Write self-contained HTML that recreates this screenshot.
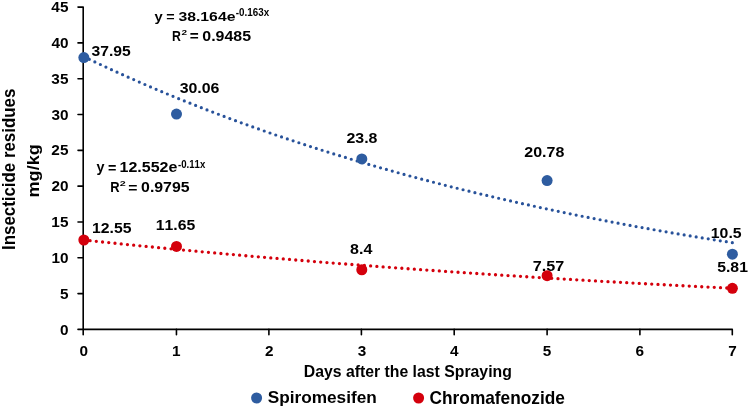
<!DOCTYPE html>
<html><head><meta charset="utf-8"><style>
html,body{margin:0;padding:0;background:#fff;}
svg{display:block;will-change:transform}
</style></head><body>
<svg width="749" height="409" viewBox="0 0 749 409">
<path d="M78 7.10 H83.2 V329.4 H732.3 V334.7" fill="none" stroke="#000" stroke-width="1.6" stroke-linejoin="round" stroke-linecap="round"/>
<path d="M78 329.40 H83.2 M78 293.59 H83.2 M78 257.78 H83.2 M78 221.97 H83.2 M78 186.16 H83.2 M78 150.34 H83.2 M78 114.53 H83.2 M78 78.72 H83.2 M78 42.91 H83.2 M83.20 329.4 V334.7 M176.45 329.4 V334.7 M268.90 329.4 V334.7 M361.40 329.4 V334.7 M454.20 329.4 V334.7 M547.10 329.4 V334.7 M639.90 329.4 V334.7" fill="none" stroke="#000" stroke-width="1.6" stroke-linecap="round"/>
<path d="M83.85,56.66 L93.11,61.08 L102.38,65.43 L111.64,69.71 L120.91,73.91 L130.18,78.05 L139.44,82.13 L148.70,86.14 L157.97,90.08 L167.24,93.96 L176.50,97.77 L185.77,101.53 L195.03,105.22 L204.30,108.86 L213.56,112.43 L222.83,115.95 L232.09,119.41 L241.35,122.81 L250.62,126.16 L259.88,129.46 L269.15,132.70 L278.42,135.89 L287.68,139.03 L296.94,142.12 L306.21,145.16 L315.48,148.14 L324.74,151.08 L334.00,153.98 L343.27,156.82 L352.53,159.62 L361.80,162.38 L371.07,165.09 L380.33,167.75 L389.60,170.38 L398.86,172.96 L408.12,175.50 L417.39,178.00 L426.66,180.45 L435.92,182.87 L445.19,185.25 L454.45,187.59 L463.72,189.89 L472.98,192.16 L482.25,194.39 L491.51,196.58 L500.77,198.74 L510.04,200.86 L519.31,202.95 L528.57,205.00 L537.84,207.02 L547.10,209.01 L556.37,210.97 L565.63,212.89 L574.89,214.78 L584.16,216.65 L593.43,218.48 L602.69,220.28 L611.96,222.06 L621.22,223.80 L630.49,225.52 L639.75,227.21 L649.01,228.87 L658.28,230.50 L667.55,232.11 L676.81,233.70 L686.08,235.25 L695.34,236.78 L704.61,238.29 L713.87,239.77 L723.14,241.23 L732.40,242.67" fill="none" stroke="#28529A" stroke-width="3.2" stroke-linecap="round" stroke-dasharray="0 6.1"/>
<path d="M83.85,240.00 L93.11,240.98 L102.38,241.96 L111.64,242.92 L120.91,243.87 L130.18,244.81 L139.44,245.74 L148.70,246.66 L157.97,247.57 L167.24,248.47 L176.50,249.36 L185.77,250.25 L195.03,251.12 L204.30,251.98 L213.56,252.83 L222.83,253.67 L232.09,254.51 L241.35,255.33 L250.62,256.15 L259.88,256.96 L269.15,257.75 L278.42,258.54 L287.68,259.32 L296.94,260.10 L306.21,260.86 L315.48,261.61 L324.74,262.36 L334.00,263.10 L343.27,263.83 L352.53,264.55 L361.80,265.27 L371.07,265.98 L380.33,266.67 L389.60,267.37 L398.86,268.05 L408.12,268.73 L417.39,269.40 L426.66,270.06 L435.92,270.71 L445.19,271.36 L454.45,272.00 L463.72,272.63 L472.98,273.26 L482.25,273.88 L491.51,274.49 L500.77,275.10 L510.04,275.70 L519.31,276.29 L528.57,276.88 L537.84,277.46 L547.10,278.03 L556.37,278.60 L565.63,279.16 L574.89,279.72 L584.16,280.26 L593.43,280.81 L602.69,281.34 L611.96,281.88 L621.22,282.40 L630.49,282.92 L639.75,283.43 L649.01,283.94 L658.28,284.45 L667.55,284.94 L676.81,285.44 L686.08,285.92 L695.34,286.40 L704.61,286.88 L713.87,287.35 L723.14,287.81 L732.40,288.28" fill="none" stroke="#D4000C" stroke-width="3.3" stroke-linecap="round" stroke-dasharray="0 6.26"/>
<g font-family="Liberation Sans, sans-serif" font-weight="bold" fill="#000" style="font-kerning:none"><text font-size="14.971" transform="translate(60.10,334.55) scale(1.0244,1)">0</text><text font-size="14.971" transform="translate(59.90,298.74) scale(1.0244,1)">5</text><text font-size="14.971" transform="translate(51.57,262.93) scale(1.0244,1)">10</text><text font-size="14.971" transform="translate(51.37,227.12) scale(1.0244,1)">15</text><text font-size="14.971" transform="translate(51.57,191.31) scale(1.0244,1)">20</text><text font-size="14.971" transform="translate(51.37,155.49) scale(1.0244,1)">25</text><text font-size="14.971" transform="translate(51.57,119.68) scale(1.0244,1)">30</text><text font-size="14.971" transform="translate(51.37,83.87) scale(1.0244,1)">35</text><text font-size="14.971" transform="translate(51.57,48.06) scale(1.0244,1)">40</text><text font-size="14.971" transform="translate(51.37,12.25) scale(1.0244,1)">45</text><text font-size="14.971" transform="translate(79.60,356.2) scale(1.0244,1)">0</text><text font-size="14.971" transform="translate(171.97,356.2) scale(1.0244,1)">1</text><text font-size="14.971" transform="translate(264.93,356.2) scale(1.0244,1)">2</text><text font-size="14.971" transform="translate(357.64,356.2) scale(1.0244,1)">3</text><text font-size="14.971" transform="translate(450.11,356.2) scale(1.0244,1)">4</text><text font-size="14.971" transform="translate(542.81,356.2) scale(1.0244,1)">5</text><text font-size="14.971" transform="translate(635.48,356.2) scale(1.0244,1)">6</text><text font-size="14.971" transform="translate(728.14,356.2) scale(1.0244,1)">7</text><text font-size="14.895" transform="translate(91.44,56.00) scale(1.0543,1)">37.95</text><text font-size="14.895" transform="translate(179.63,93.00) scale(1.0689,1)">30.06</text><text font-size="14.895" transform="translate(346.45,142.60) scale(1.0709,1)">23.8</text><text font-size="14.895" transform="translate(524.24,156.50) scale(1.0772,1)">20.78</text><text font-size="14.751" transform="translate(710.80,238.20) scale(1.0741,1)">10.5</text><text font-size="14.608" transform="translate(92.00,232.80) scale(1.0815,1)">12.55</text><text font-size="14.895" transform="translate(155.80,230.40) scale(1.0607,1)">11.65</text><text font-size="15.467" transform="translate(350.09,253.80) scale(1.0369,1)">8.4</text><text font-size="15.117" transform="translate(532.70,271.00) scale(1.0709,1)">7.57</text><text font-size="14.608" transform="translate(717.21,272.20) scale(1.0807,1)">5.81</text><text font-size="13.462" transform="translate(154.48,20.60) scale(1.0944,1)">y</text><text font-size="13.462" transform="translate(166.20,21.30) scale(1.0665,1)">=</text><text font-size="13.462" transform="translate(178.44,20.60) scale(1.1713,1)">38.164e</text><text font-size="10.025" transform="translate(235.82,15.70) scale(0.9810,1)">-0.163x</text><text font-size="14.971" transform="translate(171.98,40.50) scale(0.8208,1)">R</text><text font-size="7.877" transform="translate(181.45,35.00) scale(1.2657,1)">2</text><text font-size="14.971" transform="translate(189.66,41.20) scale(1.0256,1)">=</text><text font-size="14.971" transform="translate(202.27,40.50) scale(1.0652,1)">0.9485</text><text font-size="13.892" transform="translate(96.49,172.20) scale(1.0341,1)">y</text><text font-size="13.892" transform="translate(108.00,172.90) scale(1.0335,1)">=</text><text font-size="13.892" transform="translate(119.59,172.20) scale(1.1521,1)">12.552e</text><text font-size="10.455" transform="translate(177.92,167.70) scale(0.9225,1)">-0.11x</text><text font-size="14.971" transform="translate(110.34,191.90) scale(0.8629,1)">R</text><text font-size="8.020" transform="translate(119.63,186.20) scale(1.3467,1)">2</text><text font-size="14.971" transform="translate(128.35,192.60) scale(1.0523,1)">=</text><text font-size="14.971" transform="translate(141.07,191.90) scale(1.0585,1)">0.9795</text><text font-size="16.570" transform="translate(303.74,376.90) scale(0.9536,1)">Days after the last Spraying</text><text font-size="16.900" transform="translate(267.70,402.80) scale(1.0197,1)">Spiromesifen</text><text font-size="17.527" transform="translate(429.59,403.50) scale(0.9861,1)">Chromafenozide</text></g>
<g font-family="Liberation Sans, sans-serif" font-weight="bold" fill="#000" style="font-kerning:none"><g transform="translate(15.40,248.80) rotate(-90)"><text font-size="18.169" transform="translate(-1.13,0) scale(0.9293,1)">Insecticide residues</text></g><g transform="translate(38.70,196.40) rotate(-90)"><text font-size="17.082" transform="translate(-1.20,0) scale(1.0638,1)">mg/kg</text></g></g>
<circle cx="83.85" cy="57.59" r="5.5" fill="#2E5CA0"/>
<circle cx="176.50" cy="114.10" r="5.5" fill="#2E5CA0"/>
<circle cx="361.80" cy="158.94" r="5.5" fill="#2E5CA0"/>
<circle cx="547.10" cy="180.57" r="5.5" fill="#2E5CA0"/>
<circle cx="732.40" cy="254.20" r="5.5" fill="#2E5CA0"/>
<circle cx="83.85" cy="240.01" r="5.5" fill="#D4000C"/>
<circle cx="176.50" cy="246.46" r="5.5" fill="#D4000C"/>
<circle cx="361.80" cy="269.74" r="5.5" fill="#D4000C"/>
<circle cx="547.10" cy="275.68" r="5.5" fill="#D4000C"/>
<circle cx="732.40" cy="288.29" r="5.5" fill="#D4000C"/>
<circle cx="256.6" cy="398" r="5.5" fill="#2E5CA0"/>
<circle cx="418.6" cy="398" r="5.5" fill="#D4000C"/>
</svg>
</body></html>
